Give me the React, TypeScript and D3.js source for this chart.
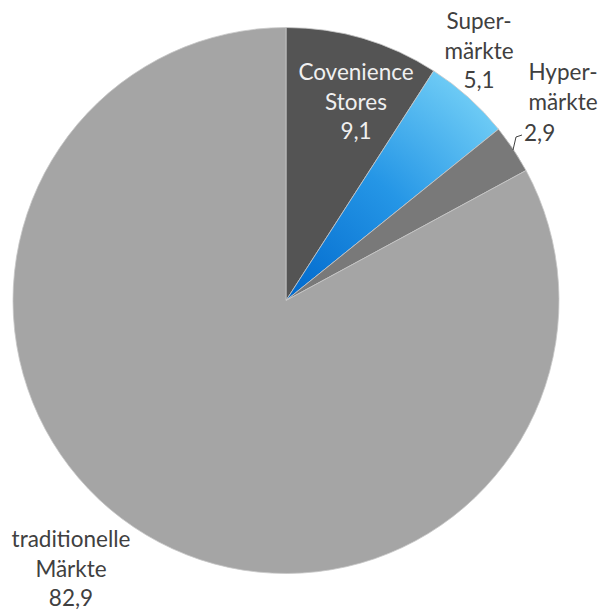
import React from "react";
import * as d3 from "d3";

const categories = ["Covenience Stores", "Supermärkte", "Hypermärkte", "traditionelle Märkte"];
const values = [9.1, 5.1, 2.9, 82.9];
const valueLabels = ["9,1", "5,1", "2,9", "82,9"];
const labelLines = [["Covenience", "Stores"], ["Super-", "märkte"], ["Hyper-", "märkte"], ["traditionelle", "Märkte"]];
const colors = ["#545454", "url(#blueGrad)", "#797979", "#a5a5a5"];

export default function App() {
  const W = 600, H = 611;
  const cx = 286, cy = 300.5, r = 273;
  const pie = d3.pie<number>().sort(null).value((d) => d);
  const arcs = pie(values);
  const arc = d3.arc<d3.PieArcDatum<number>>().innerRadius(0).outerRadius(r);
  const font = "Lato, 'Open Sans', sans-serif";
  const fs = 22.5;
  const labelPos: { x: number; y: number; fill: string }[] = [
    { x: 356, y: 80, fill: "#f0f0f0" },
    { x: 479, y: 29, fill: "#404040" },
    { x: 563, y: 80, fill: "#404040" },
    { x: 71, y: 547, fill: "#404040" },
  ];
  return (
    <svg width={W} height={H} style={{ position: "absolute", left: 0, top: 0, background: "#fff" }}>
      <defs>
        <radialGradient id="blueGrad" cx={0} cy={0} r={r} gradientUnits="userSpaceOnUse">
          <stop offset="0%" stopColor="#0068cc" />
          <stop offset="55%" stopColor="#2596e6" />
          <stop offset="100%" stopColor="#6ccaf5" />
        </radialGradient>
      </defs>
      <g transform={`translate(${cx},${cy})`}>
        {arcs.map((a, i) => (
          <path key={i} d={arc(a) || ""} fill={colors[i]} stroke="#c8c8c8" strokeWidth={0.8} />
        ))}
      </g>
      {labelLines.map((lines, i) => {
        const p = labelPos[i];
        const isHyper = i === 2;
        return (
          <text key={i} fontFamily={font} fontSize={fs} fill={p.fill} textAnchor="middle">
            {lines.map((l, j) => (
              <tspan key={j} x={p.x} y={p.y + j * 30}>{l}</tspan>
            ))}
            {!isHyper && <tspan x={p.x} y={p.y + 2 * 29.5}>{valueLabels[i]}</tspan>}
          </text>
        );
      })}
      <text x={524} y={141} fontFamily={font} fontSize={fs} fill="#404040">{valueLabels[2]}</text>
      <polyline points="513,150 516,137 522,135" fill="none" stroke="#404040" strokeWidth={1} />
    </svg>
  );
}
